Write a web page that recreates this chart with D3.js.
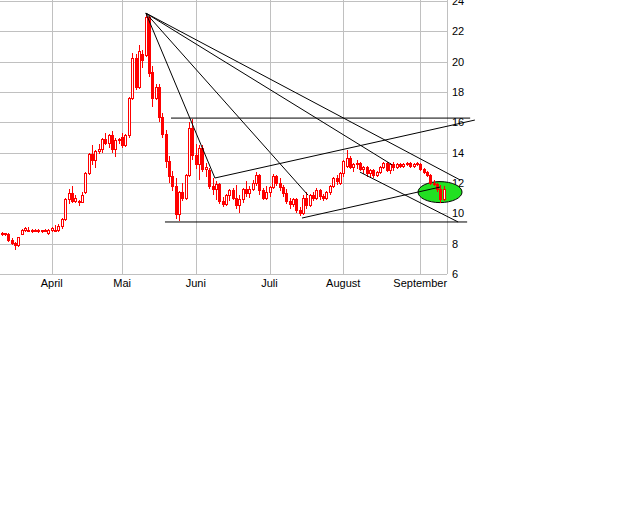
<!DOCTYPE html>
<html><head><meta charset="utf-8">
<script src="https://cdn.jsdelivr.net/npm/d3@7"></script>
<style>body{margin:0;background:#fff}</style></head>
<body><svg id="c" width="640" height="512"></svg>
<script>
const monthLabels=["April","Mai","Juni","Juli","August","September"];
const monthStartIdx=[15,36,58,80,102,125];
const yTicks=[6,8,10,12,14,16,18,20,22,24];
// [open, high, low, close] per trading day
const ohlc=[
[8.7,8.8,8.5,8.6],[8.6,8.7,8.5,8.7],[8.6,8.7,8.1,8.2],[8.2,8.4,7.9,8.0],[8.0,8.1,7.6,7.9],
[7.9,8.4,7.8,8.4],[8.6,9.0,8.6,8.9],[8.9,9.1,8.8,9.0],[8.9,9.1,8.8,8.9],[8.9,9.0,8.7,8.8],
[8.8,9.0,8.8,8.9],[8.9,9.0,8.7,8.8],[8.8,8.9,8.7,8.9],[8.9,9.0,8.8,8.9],[8.7,9.0,8.6,8.9],
[8.9,9.1,8.8,9.0],[8.9,9.2,8.8,8.9],[8.9,9.3,8.8,9.1],[9.1,9.7,9.0,9.6],[9.6,11.0,9.5,10.9],
[10.9,11.6,10.6,11.3],[11.3,11.8,10.7,10.8],[10.8,11.2,10.7,11.0],[10.8,10.9,10.5,10.7],[10.7,11.4,10.7,11.2],
[11.4,12.7,11.3,12.6],[12.6,14.0,12.5,13.9],[13.9,14.5,13.2,13.5],[13.5,14.2,13.0,14.1],[14.1,14.6,13.9,14.2],
[14.2,15.0,14.0,14.9],[14.9,15.3,14.5,14.6],[14.6,15.2,14.3,15.1],[15.1,15.4,14.0,14.2],[14.2,15.0,13.7,14.8],
[14.8,15.0,14.6,14.9],[15.0,15.3,14.3,14.5],[14.5,15.2,14.4,15.1],[15.1,17.7,15.0,17.6],[17.6,20.6,17.5,20.2],
[20.2,20.5,18.1,18.3],[18.3,21.1,18.2,20.7],[20.5,20.8,19.6,20.1],[20.4,23.2,20.3,22.9],[22.9,23.0,19.0,19.2],
[19.3,19.7,17.0,17.6],[17.6,18.5,17.5,18.3],[18.3,18.5,16.0,16.3],[16.3,16.6,15.0,15.2],[15.2,15.5,13.0,13.4],
[13.4,13.8,12.0,12.4],[12.4,12.8,11.5,11.8],[11.8,12.3,9.6,9.9],[9.9,11.5,9.5,11.4],[11.4,12.0,10.8,11.0],
[11.0,12.6,10.9,12.5],[12.5,16.0,12.4,15.6],[15.6,16.2,13.5,13.8],[13.8,14.6,12.9,13.2],[13.2,14.5,12.2,14.3],
[14.3,14.5,12.7,12.9],[12.9,13.3,12.4,13.0],[12.8,13.0,11.6,11.8],[11.8,12.3,11.2,11.6],[11.6,12.1,10.9,11.9],
[11.9,12.0,10.6,10.8],[10.8,11.1,10.4,10.6],[10.6,11.3,10.5,11.2],[11.2,11.6,10.8,11.5],[11.5,11.7,10.9,11.0],
[11.0,11.9,10.3,10.5],[10.5,11.2,10.0,10.9],[10.9,11.7,10.7,11.6],[11.6,12.1,11.1,11.3],[11.3,11.8,11.0,11.6],
[11.6,12.2,11.5,12.0],[12.0,12.7,11.8,12.5],[12.5,12.6,11.2,11.5],[11.5,11.7,10.9,11.0],[11.0,11.8,10.9,11.4],
[11.4,11.8,11.1,11.7],[11.7,12.6,11.6,12.4],[12.4,12.5,11.8,12.0],[12.0,12.3,11.5,11.7],[11.7,11.9,11.1,11.3],
[11.3,11.6,10.6,10.8],[10.8,11.0,10.3,10.6],[10.6,11.0,10.4,10.9],[10.9,11.0,10.0,10.2],[10.2,10.4,9.8,10.0],
[10.0,11.2,9.9,11.0],[11.0,11.4,10.3,10.5],[10.5,11.3,10.4,11.2],[11.2,11.4,10.8,11.0],[11.0,11.7,10.9,11.5],
[11.5,11.6,10.9,11.1],[11.1,11.3,10.8,11.0],[11.0,11.5,10.9,11.4],[11.4,11.9,11.2,11.8],[11.8,12.4,11.7,12.3],
[12.3,12.5,11.9,12.1],[12.0,12.7,11.9,12.6],[12.6,13.5,12.4,13.4],[13.1,14.2,13.0,13.6],[13.6,13.8,12.9,13.0],
[13.0,13.3,12.7,13.2],[13.2,13.5,12.9,13.3],[13.3,13.4,12.8,12.9],[12.9,13.1,12.6,13.0],[13.0,13.1,12.4,12.6],
[12.6,12.9,12.3,12.8],[12.8,12.9,12.3,12.5],[12.5,12.8,12.4,12.7],[12.7,13.1,12.6,13.0],[13.0,13.4,12.9,13.3],
[13.3,13.4,12.7,12.8],[12.8,13.3,12.6,13.2],[13.2,13.4,12.8,13.0],[13.0,13.3,12.9,13.2],[13.2,13.3,13.0,13.1],
[13.1,13.3,13.0,13.2],[13.2,13.4,13.1,13.3],[13.3,13.4,13.0,13.1],[13.1,13.3,13.0,13.2],[13.2,13.4,13.1,13.3],
[13.2,13.3,12.8,12.9],[12.9,13.0,12.6,12.7],[12.7,12.8,12.4,12.5],[12.5,12.6,11.9,12.0],[12.0,12.2,11.8,11.9],
[11.9,12.0,11.4,11.6],[11.6,11.9,10.7,10.9],[10.9,11.8,10.8,11.6]
];
// trend lines: [idx1, val1, idx2, val2]
const trendLines=[
[43.1,23.2,63.7,12.33],[63.7,12.33,141.3,16.15],[43.1,23.2,91.5,11.2],[43.1,23.2,136.9,12.2],
[43.1,23.2,116.6,13.2],[50.6,16.28,139.9,16.28],[48.8,9.43,139.0,9.43],[89.7,9.69,130.9,11.73],
[107,12.72,136.3,9.43]
];
const marker={idx:130.9,val:11.4};

const svg=d3.select("#c");
const x=d3.scaleLinear().domain([0,132]).range([1.5,443.7]);
const y=d3.scaleLinear().domain([6,24]).range([274,1]);
const W=447,H=274;
const g=svg.append("g");
g.selectAll(".hg").data(yTicks).join("line").attr("x1",0).attr("x2",W)
 .attr("y1",d=>Math.round(y(d))+0.5).attr("y2",d=>Math.round(y(d))+0.5).attr("stroke","#c0c0c0");
g.selectAll(".vg").data(monthStartIdx).join("line").attr("y1",0).attr("y2",H)
 .attr("x1",d=>Math.round(x(d))+0.5).attr("x2",d=>Math.round(x(d))+0.5).attr("stroke","#c0c0c0");
g.append("line").attr("x1",W+0.5).attr("x2",W+0.5).attr("y1",0).attr("y2",H).attr("stroke","#c0c0c0");
g.append("line").attr("x1",0).attr("x2",W).attr("y1",H+0.5).attr("y2",H+0.5).attr("stroke","#c0c0c0");
g.selectAll(".yl").data(yTicks).join("text").attr("x",452).attr("y",d=>y(d)+4)
 .attr("font-family","Liberation Sans, Arial").attr("font-size",11).text(d=>d);
g.selectAll(".xl").data(monthStartIdx).join("text").attr("x",d=>x(d)).attr("y",287)
 .attr("text-anchor","middle").attr("font-family","Liberation Sans, Arial").attr("font-size",11)
 .text((d,i)=>monthLabels[i]);
g.append("ellipse").attr("cx",x(marker.idx)).attr("cy",y(marker.val)).attr("rx",22).attr("ry",10.5)
 .attr("fill","#22e022").attr("stroke","#000");
const cg=g.append("g").attr("shape-rendering","crispEdges");
ohlc.forEach((d,i)=>{
  const cx=Math.round(x(i))+0.5;
  cg.append("line").attr("x1",cx).attr("x2",cx).attr("y1",y(d[1])).attr("y2",y(d[2])).attr("stroke","#f00");
  const top=y(Math.max(d[0],d[3])), bot=y(Math.min(d[0],d[3]));
  const up=d[3]>=d[0];
  cg.append("rect").attr("x",cx-1).attr("y",top).attr("width",2).attr("height",Math.max(1,bot-top))
    .attr("fill",up?"#fff":"#f00").attr("stroke","#f00").attr("stroke-width",1);
});
g.selectAll(".tl").data(trendLines).join("line")
 .attr("x1",d=>x(d[0])).attr("y1",d=>y(d[1])).attr("x2",d=>x(d[2])).attr("y2",d=>y(d[3]))
 .attr("stroke","#000").attr("stroke-width",1);
</script></body></html>
